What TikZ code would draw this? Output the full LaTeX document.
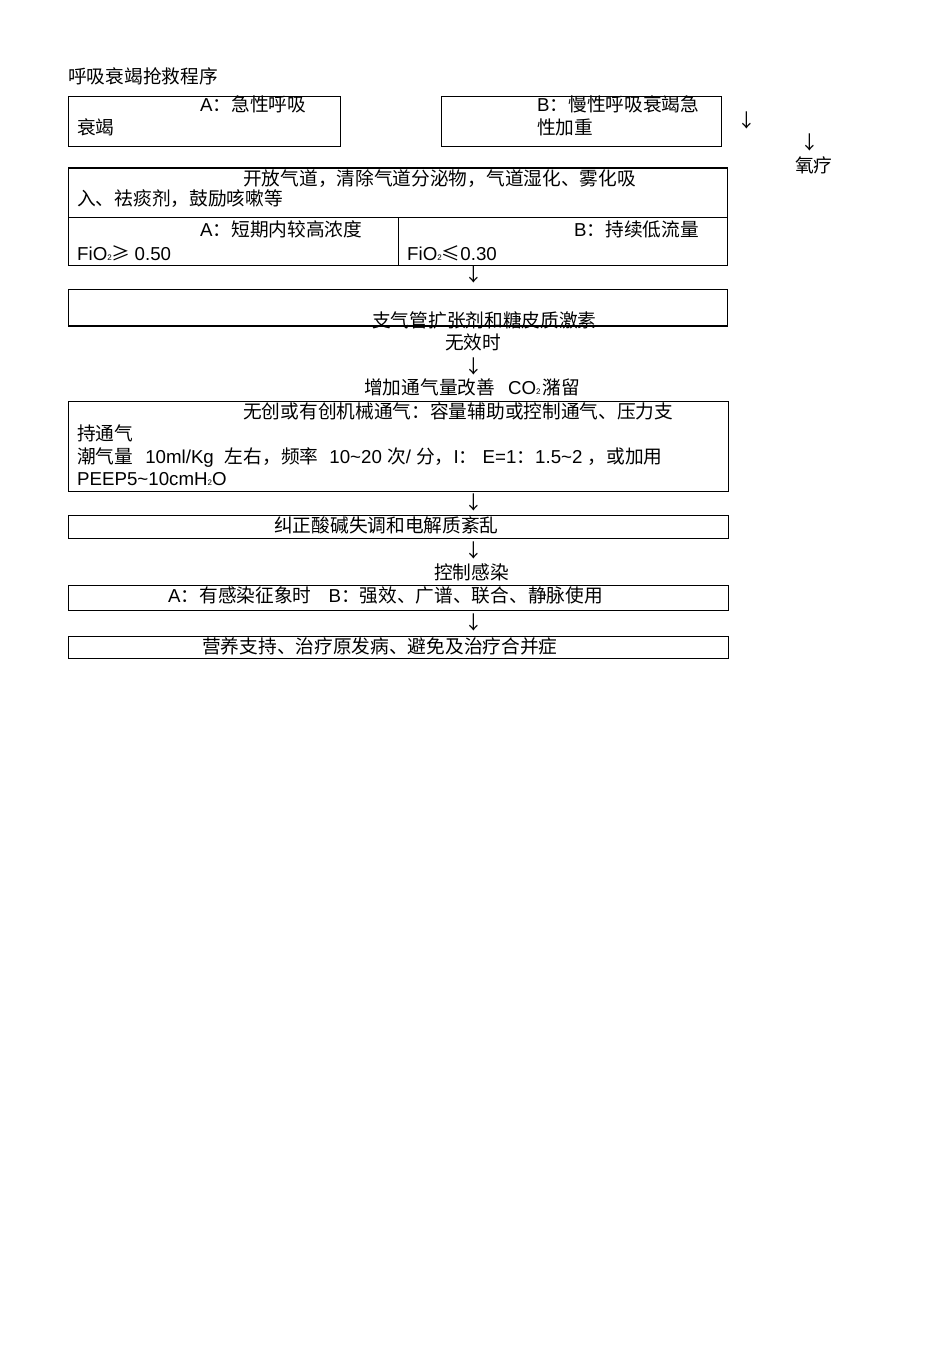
\documentclass[tikz,border=0pt]{standalone}
\usepackage{fontspec}
\setmainfont{Noto Sans CJK SC}
\newfontfamily\lat{Liberation Sans}
\newcommand\ltn[1]{{\lat #1}}
\newcommand\subtwo{{\lat\fontsize{8pt}{8pt}\selectfont 2}}
\begin{document}
\begin{tikzpicture}[x=1pt,y=-1pt,
  box/.style={draw=black, line width=1pt, inner sep=0pt, anchor=north west},
  txt/.style={inner sep=0pt, anchor=base west, font=\fontsize{18.7pt}{22pt}\selectfont},
  arr/.style={inner sep=0pt, anchor=center, font=\fontsize{18.7pt}{22pt}\selectfont}]
\useasboundingbox (0,0) rectangle (950,1345);
% title
\node[txt] (title) at (68,83) {呼吸衰竭抢救程序};
% A / B boxes
\node[box, minimum width=272pt, minimum height=50pt] (boxA) at (68,96) {};
\node[txt] (a1) at (200,111) {\ltn{A}：急性呼吸};
\node[txt] (a2) at (77,134) {衰竭};
\node[box, minimum width=280pt, minimum height=50pt] (boxB) at (441,96) {};
\node[txt] (b1) at (537,111) {\ltn{B}：慢性呼吸衰竭急};
\node[txt] (b2) at (537,134) {性加重};
\node[arr] (ar1) at (747,120) {↓};
\node[arr] (ar2) at (810,142) {↓};
\node[txt] (oxy) at (795,172) {氧疗};
% airway box
\node[box, minimum width=659pt, minimum height=50pt] (air) at (68,167) {};
\draw[line width=1pt] (air.north west) ++(0,1.2) -- ++(659,0);
\node[txt] (air1) at (243,185) {开放气道，清除气道分泌物，气道湿化、雾化吸};
\node[txt] (air2) at (77,205) {入、祛痰剂，鼓励咳嗽等};
% oxygen rows
\node[box, minimum width=330pt, minimum height=48pt] (rowA) at (68,217) {};
\node[box, minimum width=329pt, minimum height=48pt] (rowB) at (398,217) {};
\node[txt] (ra1) at (200,236) {\ltn{A}：短期内较高浓度};
\node[txt] (ra2) at (77,260) {\ltn{FiO}\subtwo≥ \ltn{0.50}};
\node[txt] (rb1) at (574,236) {\ltn{B}：持续低流量};
\node[txt] (rb2) at (407,260) {\ltn{FiO}\subtwo≤\ltn{0.30}};
\node[arr] (ar3) at (474,274) {↓};
% bronchodilator box
\node[box, minimum width=659pt, minimum height=37pt] (bron) at (68,289) {};
\draw[line width=1pt] (bron.south west) ++(0,-1.2) -- ++(659,0);
\node[txt] (bron1) at (372,327) {支气管扩张剂和糖皮质激素};
\node[txt] (noeff) at (445,349) {无效时};
\node[arr] (ar4) at (474,366) {↓};
\node[txt] (vent) at (364,394) {增加通气量改善\hspace{13pt}\ltn{CO\subtwo}\kern2pt 潴留};
% ventilation box
\node[box, minimum width=660pt, minimum height=90pt] (mv) at (68,401) {};
\node[txt] (mv1) at (243,418) {无创或有创机械通气：容量辅助或控制通气、压力支};
\node[txt] (mv2) at (77,440) {持通气};
\node[txt] (mv3) at (77,463) {潮气量\hspace{12pt}\ltn{10ml/Kg}\hspace{11pt}左右，频率\hspace{11pt}\ltn{10\char`\~20 }次\ltn{/ }分，\ltn{I}：\ltn{ E=1}：\ltn{1.5\char`\~2 }，或加用};
\node[txt] (mv4) at (77,485) {\ltn{PEEP5\char`\~10cmH\subtwo O}};
\node[arr] (ar5) at (474,502) {↓};
% acid-base box
\node[box, minimum width=660pt, minimum height=23pt] (acid) at (68,515) {};
\node[txt] (acid1) at (274,532) {纠正酸碱失调和电解质紊乱};
\node[arr] (ar6) at (474,550) {↓};
\node[txt] (inf) at (434,579) {控制感染};
% infection box
\node[box, minimum width=660pt, minimum height=25pt] (infb) at (68,585) {};
\node[txt] (inf1) at (168,602) {\ltn{A}：有感染征象时\hspace{17pt}\ltn{B}：强效、广谱、联合、静脉使用};
\node[arr] (ar7) at (474,622) {↓};
% nutrition box
\node[box, minimum width=660pt, minimum height=22pt] (nut) at (68,636) {};
\node[txt] (nut1) at (202,653) {营养支持、治疗原发病、避免及治疗合并症};
\end{tikzpicture}
\end{document}
